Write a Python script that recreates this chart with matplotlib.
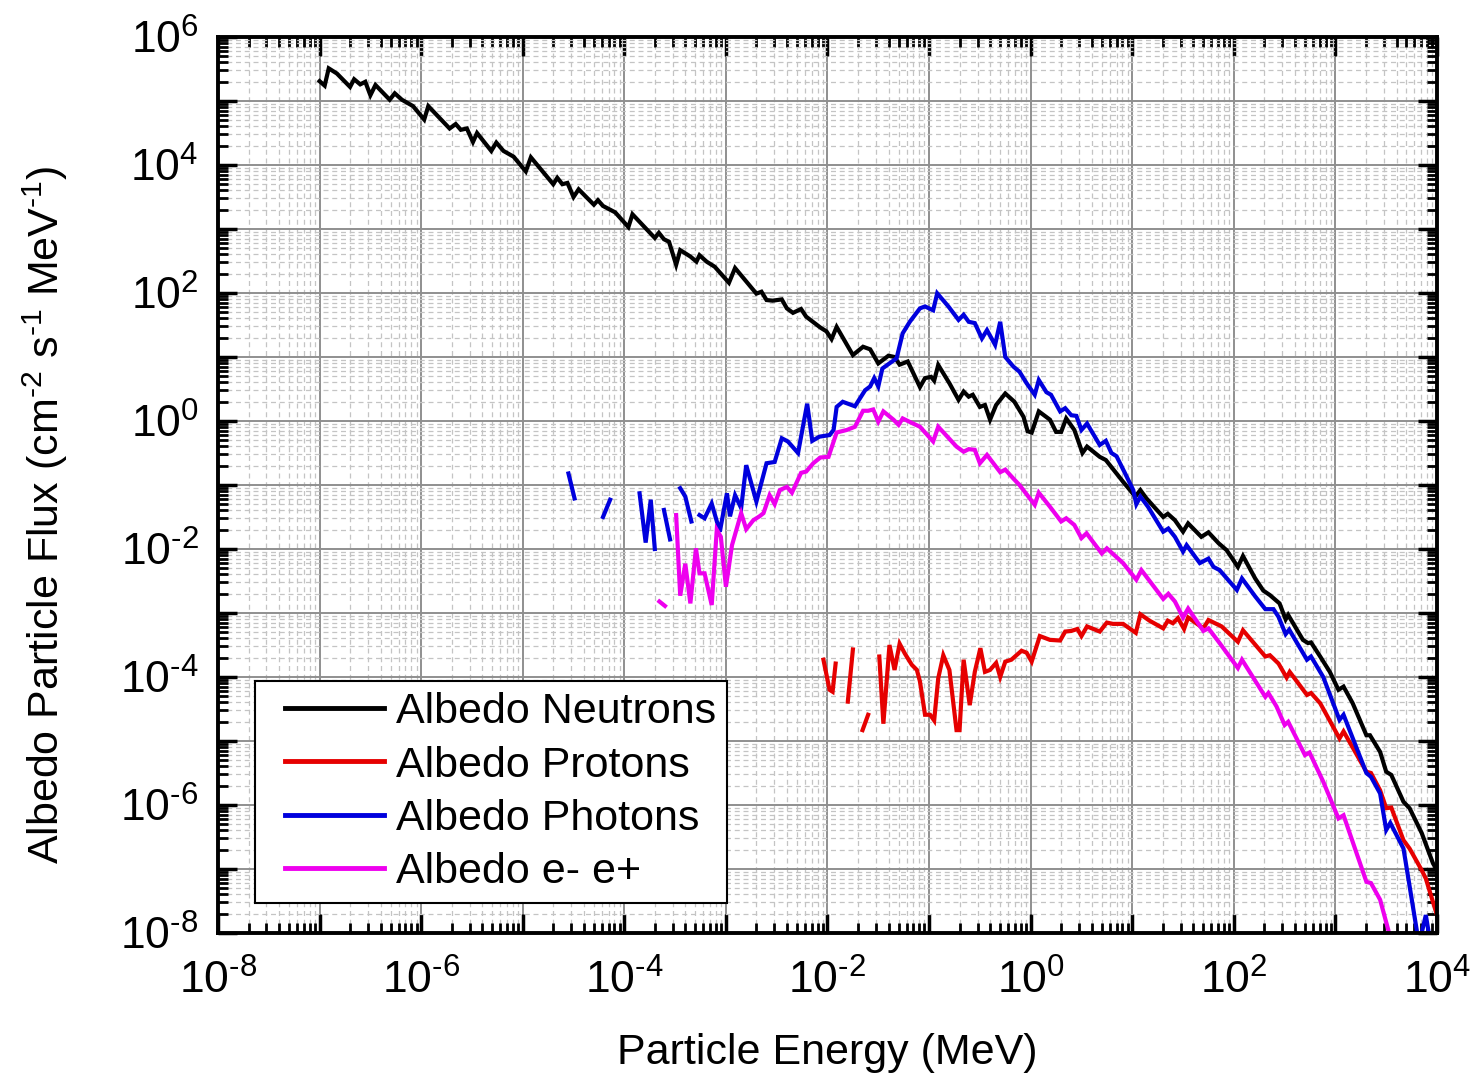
import numpy as np
import matplotlib
matplotlib.use('Agg')
import matplotlib.pyplot as plt
from matplotlib.ticker import FixedLocator, FuncFormatter
from matplotlib.legend_handler import HandlerLine2D

plt.rcParams['font.family'] = ['Liberation Sans', 'DejaVu Sans']
plt.rcParams['mathtext.fontset'] = 'custom'
plt.rcParams['mathtext.rm'] = 'Liberation Sans'
plt.rcParams['mathtext.it'] = 'Liberation Sans:italic'
plt.rcParams['mathtext.bf'] = 'Liberation Sans:bold'
plt.rcParams['axes.unicode_minus'] = False

nan = np.nan

# ---- data: log10(Energy / MeV) and log10(flux) ----
neutron_logE = [-7.00, -6.95, -6.91, -6.83, -6.70, -6.66, -6.60, -6.55, -6.50, -6.45,
                -6.31, -6.26, -6.19, -6.08, -5.97, -5.93, -5.72, -5.66, -5.61, -5.55,
                -5.49, -5.45, -5.31, -5.26, -5.19, -5.09, -4.97, -4.92, -4.70, -4.66,
                -4.61, -4.56, -4.50, -4.45, -4.30, -4.26, -4.21, -4.09, -3.96, -3.92,
                -3.70, -3.66, -3.61, -3.56, -3.49, -3.45, -3.35, -3.29, -3.26, -3.19,
                -3.11, -2.97, -2.91, -2.70, -2.65, -2.60, -2.54, -2.45, -2.40, -2.34,
                -2.26, -2.21, -2.07, -2.01, -1.96, -1.91, -1.75, -1.65, -1.58, -1.50,
                -1.40, -1.34, -1.29, -1.21, -1.09, -1.04, -0.98, -0.95, -0.91, -0.80,
                -0.71, -0.66, -0.61, -0.57, -0.50, -0.45, -0.40, -0.34, -0.25, -0.16,
                -0.07, -0.03, 0.01, 0.08, 0.19, 0.25, 0.30, 0.35, 0.43, 0.51,
                0.555, 0.68, 0.74, 0.78, 0.91, 1.03, 1.08, 1.14, 1.305, 1.35,
                1.42, 1.50, 1.55, 1.68, 1.75, 1.85, 1.93, 2.04, 2.09, 2.21,
                2.29, 2.355, 2.45, 2.51, 2.535, 2.68, 2.73, 2.76, 2.85, 2.945,
                3.03, 3.08, 3.17, 3.305, 3.34, 3.44, 3.50, 3.55, 3.67, 3.73,
                3.85, 3.96, 4.00]
neutron_logF = [5.31, 5.24, 5.51, 5.43, 5.22, 5.34, 5.26, 5.30, 5.09, 5.25,
                5.02, 5.12, 5.02, 4.92, 4.71, 4.92, 4.57, 4.64, 4.55, 4.57,
                4.36, 4.50, 4.22, 4.35, 4.22, 4.13, 3.90, 4.12, 3.70, 3.80,
                3.70, 3.72, 3.50, 3.62, 3.38, 3.45, 3.36, 3.26, 3.03, 3.23,
                2.86, 2.94, 2.84, 2.80, 2.44, 2.67, 2.57, 2.49, 2.59, 2.49,
                2.41, 2.16, 2.39, 1.99, 2.02, 1.89, 1.88, 1.90, 1.76, 1.69,
                1.75, 1.63, 1.46, 1.40, 1.28, 1.47, 1.03, 1.16, 1.12, 0.90,
                1.02, 1.00, 0.88, 0.93, 0.53, 0.67, 0.69, 0.63, 0.875, 0.59,
                0.33, 0.46, 0.38, 0.41, 0.22, 0.25, 0.02, 0.25, 0.43, 0.30,
                0.065, -0.16, -0.18, 0.15, 0.02, -0.17, -0.17, 0.04, -0.14, -0.50,
                -0.40, -0.56, -0.61, -0.69, -0.95, -1.18, -1.08, -1.21, -1.50, -1.45,
                -1.55, -1.73, -1.60, -1.81, -1.74, -1.91, -2.02, -2.28, -2.11, -2.46,
                -2.65, -2.72, -2.85, -3.10, -3.03, -3.42, -3.47, -3.46, -3.68, -3.92,
                -4.20, -4.15, -4.41, -4.91, -4.91, -5.17, -5.48, -5.53, -5.95, -6.05,
                -6.44, -6.91, -7.02]

proton_logE = [-2.04, -1.98, -1.95, -1.92, nan, -1.80, -1.75, nan, -1.655, -1.60, nan,
               -1.49, -1.45, -1.39, -1.34, -1.29, -1.24, -1.17, -1.12, -1.09, -1.04,
               -0.99, -0.95, -0.91, -0.86, -0.80, -0.73, -0.70, -0.66, -0.60, -0.55,
               -0.495, -0.45, -0.40, -0.34, -0.30, -0.25, -0.19, -0.09, -0.04, 0.01,
               0.09, 0.19, 0.29, 0.34, 0.40, 0.46, 0.50, 0.555, 0.68, 0.75,
               0.81, 0.91, 1.035, 1.08, 1.17, 1.305, 1.35, 1.40, 1.45, 1.51,
               1.55, 1.70, 1.75, 1.88, 2.04, 2.09, 2.31, 2.355, 2.44, 2.52,
               2.55, 2.72, 2.76, 2.85, 3.04, 3.08, 3.305, 3.35, 3.44, 3.50,
               3.55, 3.67, 3.73, 3.85, 3.89, 4.00]
proton_logF = [-3.73, -4.20, -4.23, -3.79, nan, -4.385, -3.57, nan, -4.83, -4.59, nan,
               -3.68, -4.73, -3.50, -3.89, -3.48, -3.63, -3.81, -3.89, -4.07, -4.59,
               -4.59, -4.68, -4.02, -3.66, -3.89, -4.83, -4.83, -3.73, -4.44, -3.92,
               -3.55, -3.92, -3.89, -3.78, -4.00, -3.76, -3.73, -3.59, -3.62, -3.76,
               -3.36, -3.42, -3.43, -3.29, -3.28, -3.25, -3.36, -3.21, -3.29, -3.15,
               -3.17, -3.17, -3.31, -3.02, -3.12, -3.24, -3.12, -3.16, -3.08, -3.25,
               -3.07, -3.24, -3.11, -3.21, -3.45, -3.27, -3.68, -3.66, -3.79, -4.01,
               -3.92, -4.28, -4.25, -4.41, -4.96, -4.85, -5.48, -5.50, -5.77, -6.05,
               -6.04, -6.55, -6.68, -7.02, -7.15, -7.72]

photon_logE = [-4.55, -4.49, nan, -4.21, -4.14, nan, -3.85, -3.79, -3.74, -3.70, nan,
               -3.61, -3.55, nan, -3.45, -3.40, -3.34, nan,
               -3.26, -3.21, -3.14, -3.06, -2.99, -2.96, -2.91, -2.85, -2.80, -2.70,
               -2.60, -2.52, -2.45, -2.39, -2.29, -2.20, -2.15, -2.08, -1.98, -1.94,
               -1.91, -1.85, -1.73, -1.63, -1.58, -1.54, -1.50, -1.46, -1.39, -1.32,
               -1.26, -1.19, -1.09, -1.04, -0.96, -0.92, -0.81, -0.71, -0.66, -0.61,
               -0.55, -0.48, -0.43, -0.35, -0.30, -0.25, -0.17, -0.11, -0.04, 0.04,
               0.08, 0.155, 0.20, 0.29, 0.34, 0.40, 0.45, 0.50, 0.555, 0.68,
               0.74, 0.795, 0.845, 0.93, 1.01, 1.04, 1.08, 1.155, 1.305, 1.355,
               1.42, 1.50, 1.535, 1.665, 1.75, 1.80, 1.86, 2.03, 2.08, 2.21,
               2.31, 2.39, 2.44, 2.51, 2.545, 2.72, 2.76, 2.88, 3.04, 3.08,
               3.305, 3.35, 3.44, 3.50, 3.54, 3.67, 3.80, 3.82, 3.89, 3.95]
photon_logF = [-0.82, -1.21, nan, -1.50, -1.23, nan, -1.13, -1.90, -1.23, -2.00, nan,
               -1.39, -1.85, nan, -1.05, -1.18, -1.57, nan,
               -1.47, -1.52, -1.29, -1.73, -1.13, -1.49, -1.16, -1.36, -0.69, -1.26,
               -0.66, -0.64, -0.27, -0.32, -0.50, 0.27, -0.31, -0.245, -0.22, -0.14,
               0.22, 0.30, 0.23, 0.48, 0.54, 0.67, 0.54, 0.82, 0.90, 0.98,
               1.37, 1.55, 1.76, 1.79, 1.73, 1.995, 1.79, 1.58, 1.66, 1.55,
               1.53, 1.29, 1.42, 1.19, 1.55, 1.00, 0.85, 0.77, 0.59, 0.41,
               0.64, 0.45, 0.41, 0.15, 0.20, 0.09, 0.08, -0.14, -0.04, -0.375,
               -0.31, -0.50, -0.55, -0.82, -1.08, -1.30, -1.18, -1.34, -1.73, -1.68,
               -1.81, -2.04, -1.94, -2.22, -2.15, -2.28, -2.33, -2.64, -2.46, -2.74,
               -2.94, -2.94, -3.06, -3.33, -3.26, -3.73, -3.68, -4.00, -4.67, -4.59,
               -5.50, -5.56, -5.82, -6.39, -6.28, -6.68, -7.95, -8.20, -7.72, -8.30]

electron_logE = [-3.655, -3.60, nan,
                 -3.49, -3.45, -3.40, -3.35, -3.295, -3.26, -3.21, -3.14, -3.09, -3.05,
                 -3.00, -2.94, -2.85, -2.80, -2.73, -2.67, -2.63, -2.57, -2.52, -2.47,
                 -2.40, -2.35, -2.26, -2.21, -2.14, -2.07, -1.99, -1.91, -1.81, -1.73,
                 -1.65, -1.60, -1.55, -1.50, -1.45, -1.35, -1.30, -1.26, -1.17, -1.09,
                 -0.96, -0.91, -0.73, -0.66, -0.61, -0.55, -0.50, -0.43, -0.30, -0.25,
                 -0.17, -0.11, 0.04, 0.08, 0.19, 0.30, 0.35, 0.43, 0.50, 0.55,
                 0.70, 0.75, 0.91, 1.04, 1.09, 1.305, 1.355, 1.42, 1.50, 1.55,
                 1.70, 1.75, 1.86, 2.04, 2.08, 2.31, 2.34, 2.42, 2.50, 2.535,
                 2.70, 2.745, 2.88, 3.03, 3.08, 3.305, 3.35, 3.44, 3.52, 3.56]
electron_logF = [-2.82, -2.89, nan,
                 -1.47, -2.73, -2.23, -2.85, -1.99, -2.38, -2.38, -2.875, -1.70, -1.81,
                 -2.59, -1.94, -1.44, -1.69, -1.55, -1.49, -1.44, -1.16, -1.30, -1.08,
                 -1.03, -1.12, -0.81, -0.79, -0.66, -0.57, -0.56, -0.18, -0.14, -0.09,
                 0.16, 0.16, 0.18, -0.01, 0.15, 0.02, -0.06, 0.04, -0.03, -0.09,
                 -0.32, -0.09, -0.40, -0.48, -0.44, -0.45, -0.66, -0.53, -0.80, -0.76,
                 -0.90, -1.00, -1.31, -1.12, -1.34, -1.57, -1.52, -1.625, -1.83, -1.755,
                 -2.07, -1.99, -2.22, -2.48, -2.33, -2.78, -2.70, -2.82, -3.07, -2.93,
                 -3.28, -3.24, -3.47, -3.86, -3.73, -4.31, -4.25, -4.46, -4.75, -4.70,
                 -5.22, -5.18, -5.635, -6.21, -6.16, -7.20, -7.22, -7.48, -7.95, -8.30]

series_labels = ['Albedo Neutrons', 'Albedo Protons', 'Albedo Photons', 'Albedo e- e+']
series_colors = ['#000000', '#e60000', '#0000dd', '#ee00ee']

x_tick_exps = list(range(-8, 5))
y_tick_exps = list(range(-8, 7))

FS = 31

# ---- figure ----
fig = plt.figure(figsize=(14.71, 10.77), dpi=100)
ax = fig.add_axes([218 / 1471, 1 - 933 / 1077, (1437 - 218) / 1471, (933 - 37) / 1077])
ax.set_xscale('log')
ax.set_yscale('log')

data = [(neutron_logE, neutron_logF), (proton_logE, proton_logF),
        (photon_logE, photon_logF), (electron_logE, electron_logF)]
for (lx, ly), lab, col in zip(data, series_labels, series_colors):
    ax.plot(10 ** np.array(lx, float), 10 ** np.array(ly, float), color=col, lw=3.0,
            label=lab, solid_joinstyle='miter', zorder=3)

ax.set_xlim(10.0 ** x_tick_exps[0], 10.0 ** x_tick_exps[-1])
ax.set_ylim(10.0 ** y_tick_exps[0], 10.0 ** y_tick_exps[-1])

def minor_pos(exps):
    return [m * 10.0 ** e for e in exps[:-1] for m in range(2, 10)]

ax.xaxis.set_major_locator(FixedLocator([10.0 ** e for e in x_tick_exps]))
ax.yaxis.set_major_locator(FixedLocator([10.0 ** e for e in y_tick_exps]))
ax.xaxis.set_minor_locator(FixedLocator(minor_pos(x_tick_exps)))
ax.yaxis.set_minor_locator(FixedLocator(minor_pos(y_tick_exps)))

def fmt(v, pos):
    e = int(round(np.log10(v)))
    if e % 2:
        return ''
    return r'$\mathregular{10^{\text{%d}}}$' % e

ax.xaxis.set_major_formatter(FuncFormatter(fmt))
ax.yaxis.set_major_formatter(FuncFormatter(fmt))
ax.xaxis.set_minor_formatter(FuncFormatter(lambda v, p: ''))
ax.yaxis.set_minor_formatter(FuncFormatter(lambda v, p: ''))

ax.set_axisbelow(True)
ax.grid(which='major', color='#8f8f8f', lw=1.4, ls='-', zorder=0)
ax.grid(which='minor', color='#c4c4c4', lw=0.9, ls=(0, (4, 3)), zorder=0)

ax.tick_params(which='major', direction='in', top=True, right=True, length=14, width=2.5,
               labelsize=FS + 1, color='black')
ax.tick_params(axis='x', which='major', pad=19)
ax.tick_params(axis='y', which='major', pad=14)
ax.tick_params(which='minor', direction='in', top=True, right=True, length=7, width=2.0,
               color='black')
for s in ax.spines.values():
    s.set_linewidth(2.8)
    s.set_zorder(5)


class OffsetLineHandler(HandlerLine2D):
    """Legend line that starts a little to the right inside its handle box."""
    def create_artists(self, legend, orig_handle, xdescent, ydescent, width,
                       height, fontsize, trans):
        arts = super().create_artists(legend, orig_handle, xdescent, ydescent,
                                      width, height, fontsize, trans)
        for a in arts:
            xd = np.asarray(a.get_xdata(), float)
            if xd.size >= 2:
                x0, x1 = xd.min(), xd.max()
                a.set_xdata(np.linspace(x0 + 0.16 * (x1 - x0), x1, xd.size))
        return arts


handles, labels = ax.get_legend_handles_labels()
leg = ax.legend(handles, labels, loc='lower left', bbox_to_anchor=(0.0304, 0.0335),
                fontsize=FS, frameon=True, fancybox=False, framealpha=1,
                edgecolor='black', handlelength=2.75, handletextpad=0.28,
                labelspacing=0.31, borderpad=0.25, borderaxespad=0,
                handler_map={h: OffsetLineHandler() for h in handles})
leg.get_frame().set_linewidth(1.5)
for h in leg.get_lines():
    h.set_linewidth(3.5)
leg.set_zorder(6)

fig.text(0.5625, 1 - 1053 / 1077, 'Particle Energy (MeV)', fontsize=FS,
         ha='center', va='center')
fig.text(45 / 1471, 1 - 515 / 1077,
         r'Albedo Particle Flux (cm$^{\mathregular{\text{-2}}}$ s$^{\mathregular{\text{-1}}}$ MeV$^{\mathregular{\text{-1}}}$)',
         fontsize=FS, rotation=90, ha='center', va='center')

fig.savefig('out.png', dpi=100)
